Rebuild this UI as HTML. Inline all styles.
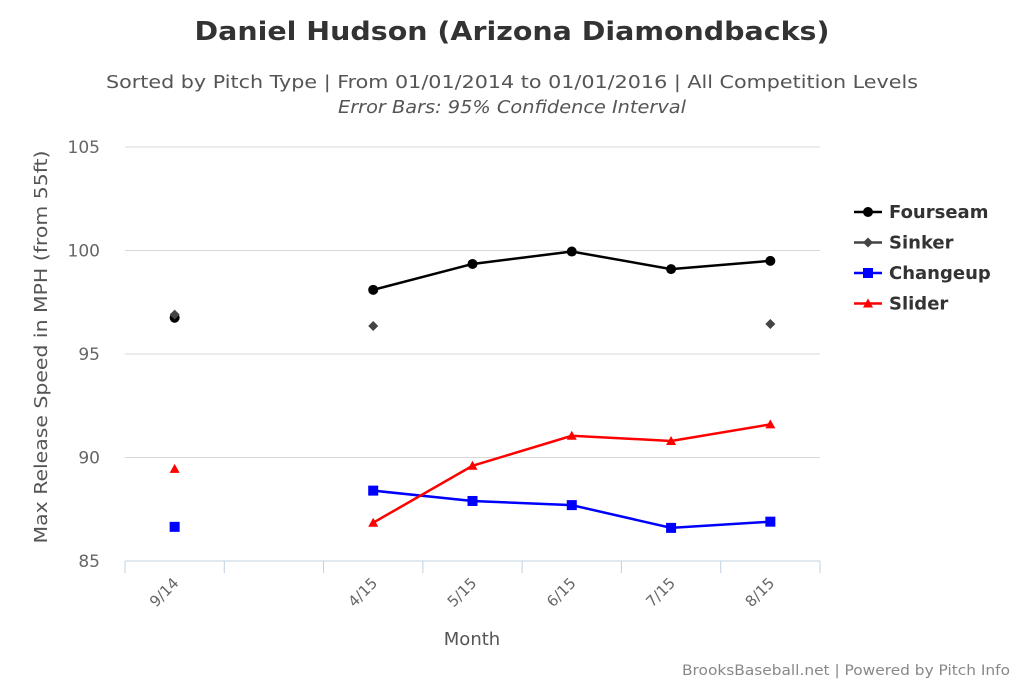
<!DOCTYPE html>
<html><head><meta charset="utf-8"><style>
body{margin:0;background:#fff;font-family:"DejaVu Sans",sans-serif}
svg text{font-family:"DejaVu Sans","Liberation Sans",sans-serif}
</style></head><body>
<svg width="1024" height="683">
<text x="512" y="40" text-anchor="middle" font-size="26" font-weight="bold" fill="#333" textLength="635" lengthAdjust="spacingAndGlyphs">Daniel Hudson (Arizona Diamondbacks)</text>
<text x="512" y="88" text-anchor="middle" font-size="18" fill="#555" textLength="812" lengthAdjust="spacingAndGlyphs">Sorted by Pitch Type | From 01/01/2014 to 01/01/2016 | All Competition Levels</text>
<text x="512" y="113" text-anchor="middle" font-size="18" font-style="italic" fill="#555" textLength="348" lengthAdjust="spacingAndGlyphs">Error Bars: 95% Confidence Interval</text>
<g id="grid"></g><g id="axes"></g><g id="series"></g>
<text x="472" y="645" text-anchor="middle" font-size="18" fill="#555">Month</text>
<text transform="translate(47,347) rotate(-90)" text-anchor="middle" font-size="18" fill="#555" textLength="393" lengthAdjust="spacingAndGlyphs">Max Release Speed in MPH (from 55ft)</text>
<text x="1010" y="675" text-anchor="end" font-size="14" fill="#888" textLength="328" lengthAdjust="spacingAndGlyphs">BrooksBaseball.net | Powered by Pitch Info</text>
<g id="legend"></g>
</svg>
<script>
const categories=["9/14","","4/15","5/15","6/15","7/15","8/15"];
const yTicks=[85,90,95,100,105];
const seriesNames=["Fourseam","Sinker","Changeup","Slider"];
const fourseam=[96.75,null,98.1,99.35,99.95,99.1,99.5];
const sinker=[96.9,null,96.35,null,null,null,96.45];
const changeup=[86.65,null,88.4,87.9,87.7,86.6,86.9];
const slider=[89.45,null,86.85,89.6,91.05,90.8,91.6];
const colors=["#000","#444","#0000ff","#ff0000"];
const shapes=["circle","diamond","square","triangle"];
const lines=[true,false,true,true];
const data=[fourseam,sinker,changeup,slider];
const X0=125,X1=820,Y0=561,Y1=147;
const bw=(X1-X0)/categories.length;
const xs=i=>X0+bw*(i+0.5);
const ys=v=>Y0-(v-85)/(105-85)*(Y0-Y1);
const NS="http://www.w3.org/2000/svg";
function mk(t,a,p){const e=document.createElementNS(NS,t);for(const k in a)e.setAttribute(k,a[k]);p.appendChild(e);return e;}
const grid=document.getElementById('grid'),axes=document.getElementById('axes'),ser=document.getElementById('series'),leg=document.getElementById('legend');
yTicks.forEach(t=>{
 if(t>85){const l=mk('line',{x1:X0,x2:X1,y1:ys(t),y2:ys(t),stroke:'#d8d8d8','stroke-width':1},grid);
 
 }
 const tx=mk('text',{x:100,y:ys(t)+6,'text-anchor':'end','font-size':17,fill:'#666'},axes);tx.textContent=t;
 
 
});
const ax=mk('line',{x1:X0,x2:X1,y1:Y0,y2:Y0,stroke:'#c0d0e0','stroke-width':1},axes);


for(let i=0;i<=categories.length;i++){const tk=mk('line',{x1:X0+bw*i,x2:X0+bw*i,y1:Y0,y2:Y0+12,stroke:'#c0d0e0'},axes);
 
 }
categories.forEach((c,i)=>{if(!c)return;const x=xs(i)+5,y=Y0+23;
 const t=mk('text',{x:x,y:y,'text-anchor':'end','font-size':15,fill:'#666',transform:`rotate(-45 ${x} ${y})`},axes);t.textContent=c;
 
 });
function marker(s,x,y,c,p,r){
 let e;
 if(s==='circle')e=mk('circle',{cx:x,cy:y,r:r||5,fill:c},p);
 else if(s==='diamond')e=mk('polygon',{points:`${x},${y-5} ${x+5},${y} ${x},${y+5} ${x-5},${y}`,fill:c},p);
 else if(s==='square')e=mk('rect',{x:x-5,y:y-5,width:10,height:10,fill:c},p);
 else e=mk('polygon',{points:`${x},${y-5} ${x+5},${y+4} ${x-5},${y+4}`,fill:c},p);
 return e;}
data.forEach((d,si)=>{
 if(lines[si]){let seg=[];const flush=()=>{if(seg.length>1){const pl=mk('polyline',{points:seg.join(' '),fill:'none',stroke:colors[si],'stroke-width':2.5},ser);
  
  }seg=[];};
  d.forEach((v,i)=>{if(v==null)flush();else seg.push(xs(i)+','+ys(v));});flush();}
 d.forEach((v,i)=>{if(v==null)return;const m=marker(shapes[si],xs(i),ys(v),colors[si],ser);
  
  });
});
seriesNames.forEach((n,i)=>{const y=212+i*30.5;
 const g=mk('g',{},leg);
 
 
 mk('line',{x1:854,x2:882,y1:y,y2:y,stroke:colors[i],'stroke-width':2.5},g);
 marker(shapes[i],868,y,colors[i],g);
 const t=mk('text',{x:889,y:y+6,'font-size':18,'font-weight':'bold',fill:'#333'},g);t.textContent=n;});
</script>
</body></html>
